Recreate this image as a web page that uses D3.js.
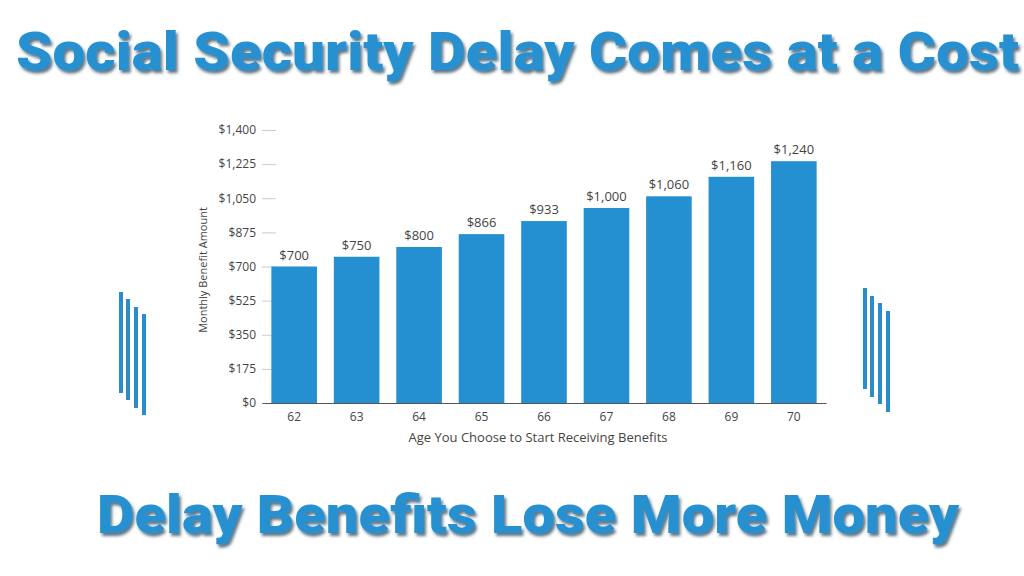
<!DOCTYPE html>
<html>
<head>
<meta charset="utf-8">
<script src="https://cdn.jsdelivr.net/npm/d3@7"></script>
<style>
body { margin: 0; background: #fff; }
svg { display: block; }
</style>
</head>
<body>
<script>
// data
var ages = ["62", "63", "64", "65", "66", "67", "68", "69", "70"];
var benefits = [700, 750, 800, 866, 933, 1000, 1060, 1160, 1240];
var yTicks = [0, 175, 350, 525, 700, 875, 1050, 1225, 1400];

var W = 1024, H = 576;
var blue = "#2590d1";

var svg = d3.select("body").append("svg")
    .attr("width", W)
    .attr("height", H);

var defs = svg.append("defs");
var f = defs.append("filter").attr("id", "shadow")
    .attr("x", "-5%").attr("y", "-20%").attr("width", "110%").attr("height", "150%");
f.append("feDropShadow")
    .attr("dx", 2).attr("dy", 3).attr("stdDeviation", 1.4)
    .attr("flood-color", "#1d3a52").attr("flood-opacity", 0.7);

// titles
svg.append("text")
    .attr("x", 16).attr("y", 70)
    .attr("textLength", 1003).attr("lengthAdjust", "spacingAndGlyphs")
    .attr("font-family", "Roboto, 'Open Sans', sans-serif")
    .attr("font-weight", 900).attr("font-size", 54)
    .attr("fill", blue).attr("filter", "url(#shadow)")
    .text("Social Security Delay Comes at a Cost");

svg.append("text")
    .attr("x", 97).attr("y", 533)
    .attr("textLength", 862).attr("lengthAdjust", "spacingAndGlyphs")
    .attr("font-family", "Roboto, 'Open Sans', sans-serif")
    .attr("font-weight", 900).attr("font-size", 54)
    .attr("fill", blue).attr("filter", "url(#shadow)")
    .text("Delay Benefits Lose More Money");

// chart
var x = d3.scaleBand()
    .domain(ages)
    .range([262, 826])
    .paddingInner(0.27)
    .paddingOuter(0.15);

var y = d3.scaleLinear()
    .domain([0, 1400])
    .range([403, 130]);

var font = "'Open Sans', sans-serif";

var yAxis = svg.append("g")
    .attr("transform", "translate(276,0)")
    .call(d3.axisLeft(y).tickValues(yTicks).tickSize(14).tickPadding(6)
        .tickFormat(function(d) { return "$" + d3.format(",")(d); }));
yAxis.select(".domain").remove();
yAxis.selectAll(".tick line").attr("stroke", "#ccc");
yAxis.selectAll(".tick text")
    .attr("font-family", font).attr("font-size", 12).attr("fill", "#444");

svg.selectAll("rect.bar")
    .data(benefits)
    .enter()
    .append("rect")
    .attr("class", "bar")
    .attr("x", function(d, i) { return x(ages[i]); })
    .attr("y", function(d) { return y(d); })
    .attr("width", x.bandwidth())
    .attr("height", function(d) { return y(0) - y(d); })
    .attr("fill", blue);

svg.selectAll("text.val")
    .data(benefits)
    .enter()
    .append("text")
    .attr("class", "val")
    .attr("x", function(d, i) { return x(ages[i]) + x.bandwidth() / 2; })
    .attr("y", function(d) { return y(d) - 7; })
    .attr("text-anchor", "middle")
    .attr("font-family", font).attr("font-size", 13).attr("fill", "#444")
    .text(function(d) { return "$" + d3.format(",")(d); });

var xAxis = svg.append("g")
    .attr("transform", "translate(0,403)")
    .call(d3.axisBottom(x).tickSize(0).tickPadding(9));
xAxis.select(".domain").attr("stroke", "#555").attr("stroke-width", 1.2);
xAxis.selectAll(".tick text")
    .attr("font-family", font).attr("font-size", 12).attr("fill", "#444");

svg.append("text")
    .attr("x", 538).attr("y", 442)
    .attr("text-anchor", "middle")
    .attr("font-family", font).attr("font-size", 13).attr("fill", "#444")
    .text("Age You Choose to Start Receiving Benefits");

svg.append("text")
    .attr("transform", "translate(207,270) rotate(-90)")
    .attr("text-anchor", "middle")
    .attr("font-family", font).attr("font-size", 11).attr("fill", "#444")
    .text("Monthly Benefit Amount");

// side decorations
var leftDeco = [[121, 292, 393], [128, 299, 400], [136, 307, 408], [144, 314, 415]];
var rightDeco = [[865, 288, 389], [872, 296, 397], [880, 303, 404], [888, 311, 412]];
svg.selectAll("line.deco")
    .data(leftDeco.concat(rightDeco))
    .enter()
    .append("line")
    .attr("class", "deco")
    .attr("x1", function(d) { return d[0]; })
    .attr("x2", function(d) { return d[0]; })
    .attr("y1", function(d) { return d[1]; })
    .attr("y2", function(d) { return d[2]; })
    .attr("stroke", "#2a8cc8").attr("stroke-width", 4);
</script>
</body>
</html>
